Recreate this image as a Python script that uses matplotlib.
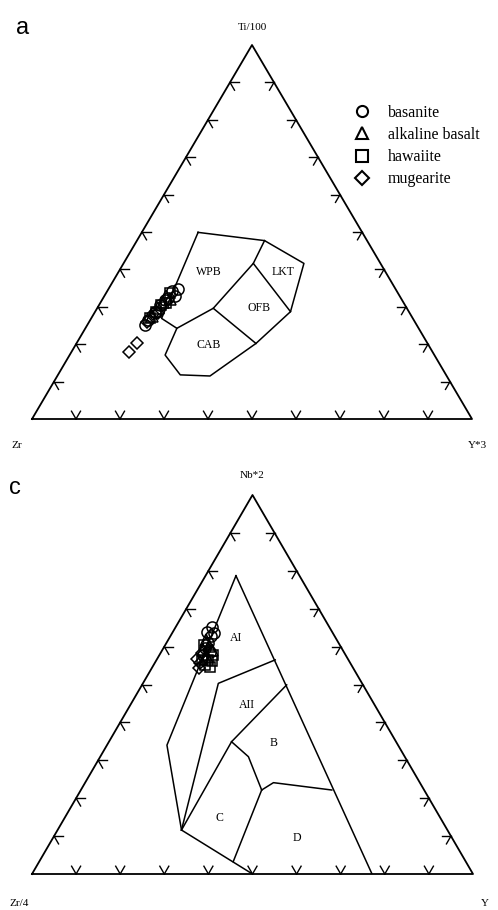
import math
import matplotlib
matplotlib.use("Agg")
import matplotlib.pyplot as plt
from matplotlib.lines import Line2D

plt.rcParams['font.family'] = ['Liberation Serif', 'DejaVu Serif']

# --- data: ternary fractions (top apex, right corner); left corner = remainder ---
# diagram a: Ti/100 - Zr - Y*3
a_bas_ti = [0.251, 0.265, 0.286, 0.305, 0.324, 0.342, 0.329, 0.348, 0.318]
a_bas_y = [0.131, 0.131, 0.137, 0.139, 0.147, 0.147, 0.161, 0.158, 0.143]
a_alk_ti = [0.275, 0.297, 0.313, 0.329, 0.321]
a_alk_y = [0.135, 0.138, 0.141, 0.140, 0.153]
a_haw_ti = [0.270, 0.286, 0.305, 0.337, 0.310]
a_haw_y = [0.133, 0.139, 0.141, 0.145, 0.149]
a_mug_ti = [0.179, 0.203, 0.259, 0.281, 0.283]
a_mug_y = [0.131, 0.137, 0.132, 0.135, 0.144]

# diagram c: Nb*2 - Zr/4 - Y
c_bas_nb = [0.652, 0.628, 0.610, 0.596, 0.586, 0.578, 0.636, 0.6385]
c_bas_y = [0.082, 0.092, 0.094, 0.094, 0.111, 0.099, 0.095, 0.078]
c_alk_nb = [0.617, 0.602, 0.591, 0.573, 0.591]
c_alk_y = [0.086, 0.101, 0.092, 0.111, 0.113]
c_haw_nb = [0.604, 0.565, 0.546, 0.552, 0.562, 0.565, 0.578]
c_haw_y = [0.088, 0.117, 0.131, 0.117, 0.127, 0.103, 0.121]
c_mug_nb = [0.567, 0.557, 0.583, 0.5435]
c_mug_y = [0.091, 0.103, 0.094, 0.107]

# field boundaries, diagram a (Pearce & Cann)
a_outline = [(0.499, 0.128), (0.477, 0.290), (0.416, 0.410), (0.287, 0.444),
             (0.202, 0.408), (0.115, 0.347), (0.118, 0.278), (0.171, 0.217),
             (0.2425, 0.208), (0.269, 0.160), (0.499, 0.128)]
a_lines = [
    [(0.2425, 0.208), (0.296, 0.264), (0.416, 0.295), (0.477, 0.290)],
    [(0.416, 0.295), (0.287, 0.444)],
    [(0.296, 0.264), (0.202, 0.408)],
]
a_fields = ['WPB', 'LKT', 'OFB', 'CAB']
a_field_pos = [(0.394, 0.206), (0.394, 0.373), (0.296, 0.369), (0.198, 0.302)]

# field boundaries, diagram c (Meschede)
c_lines = [
    [(0.787, 0.069), (0.340, 0.136), (0.116, 0.281)],
    [(0.787, 0.069), (0.0, 0.771)],
    [(0.565, 0.269), (0.503, 0.171), (0.116, 0.281)],
    [(0.499, 0.328), (0.349, 0.278), (0.116, 0.281)],
    [(0.349, 0.278), (0.3095, 0.336), (0.2216, 0.410)],
    [(0.2216, 0.410), (0.241, 0.427), (0.2216, 0.569)],
    [(0.2216, 0.410), (0.0325, 0.440)],
    [(0.116, 0.281), (0.0, 0.5)],
]
c_fields = ['AI', 'AII', 'B', 'C', 'D']
c_field_pos = [(0.623, 0.151), (0.446, 0.264), (0.3456, 0.376), (0.148, 0.352), (0.095, 0.553)]

groups = ['basanite', 'alkaline basalt', 'hawaiite', 'mugearite']
markers = ['o', '^', 's', 'D']
msizes = [8, 8, 7, 6]

tick_fracs = [0.1, 0.2, 0.3, 0.4, 0.5, 0.6, 0.7, 0.8, 0.9]

W, H = 498, 910


def xy(top, right):
    return right + top / 2.0, top


def make_tri(rect_px):
    # rect_px = (left, base_y, width, height) in image pixels
    l, base, w, h = rect_px
    ax = fig.add_axes([l / W, 1 - base / H, w / W, h / H])
    ax.set_xlim(0, 1)
    ax.set_ylim(0, 1)
    ax.axis('off')
    ax.plot([0, 1, 0.5, 0], [0, 0, 1, 0], color='black', lw=1.3, clip_on=False)
    arm = 9.0
    for f in tick_fracs:
        for (px, py), angs in [((f, 0.0), (60, 120)),
                               ((0.5 * f, f), (0, -60)),
                               ((1 - 0.5 * f, f), (180, 240))]:
            for ang in angs:
                dx = arm * math.cos(math.radians(ang)) / w
                dy = arm * math.sin(math.radians(ang)) / h
                ax.plot([px, px + dx], [py, py + dy], color='black', lw=1.0,
                        clip_on=False)
    return ax


def draw_points(ax, sets):
    for (tops, rights), g, m, ms in zip(sets, groups, markers, msizes):
        xs, ys = zip(*[xy(t, r) for t, r in zip(tops, rights)])
        ax.plot(xs, ys, linestyle='none', marker=m, ms=ms, mfc='none',
                mec='black', mew=1.1, label=g, clip_on=False)


fig = plt.figure(figsize=(W / 100, H / 100), dpi=100)

# ---- diagram a ----
ax1 = make_tri((32, 419, 440, 374))
ox, oy = zip(*[xy(t, r) for t, r in a_outline])
ax1.plot(ox, oy, color='black', lw=1.1)
for seg in a_lines:
    sx, sy = zip(*[xy(t, r) for t, r in seg])
    ax1.plot(sx, sy, color='black', lw=1.1)
for name, (t, r) in zip(a_fields, a_field_pos):
    x, y = xy(t, r)
    ax1.text(x, y, name, fontsize=8.5, ha='center', va='center')
draw_points(ax1, [(a_bas_ti, a_bas_y), (a_alk_ti, a_alk_y),
                  (a_haw_ti, a_haw_y), (a_mug_ti, a_mug_y)])

leg_handles = [Line2D([], [], linestyle='none', marker=m, ms=ms, mfc='none',
                      mec='black', mew=1.5) for m, ms in zip(markers, [8, 9, 8, 7])]
fig.legend(leg_handles, groups, loc='upper left',
           bbox_to_anchor=(356 / W, 1 - 105 / H), frameon=False,
           fontsize=11.5, handlelength=0.8, handletextpad=1.2,
           labelspacing=0.38, borderpad=0, borderaxespad=0)

# ---- diagram c ----
ax2 = make_tri((32, 874, 441, 379))
for seg in c_lines:
    sx, sy = zip(*[xy(t, r) for t, r in seg])
    ax2.plot(sx, sy, color='black', lw=1.1)
for name, (t, r) in zip(c_fields, c_field_pos):
    x, y = xy(t, r)
    ax2.text(x, y, name, fontsize=8.5, ha='center', va='center')
draw_points(ax2, [(c_bas_nb, c_bas_y), (c_alk_nb, c_alk_y),
                  (c_haw_nb, c_haw_y), (c_mug_nb, c_mug_y)])

# ---- labels ----
def ftext(x, y, s, **kw):
    fig.text(x / W, 1 - y / H, s, ha='center', va='center', **kw)

ftext(23, 28, 'a', fontsize=17, family=['Liberation Sans', 'DejaVu Sans'])
ftext(15, 488, 'c', fontsize=17, family=['Liberation Sans', 'DejaVu Sans'])
ftext(252, 28, 'Ti/100', fontsize=8)
ftext(17, 445, 'Zr', fontsize=8)
ftext(477, 445, 'Y*3', fontsize=8)
ftext(252, 475, 'Nb*2', fontsize=8)
ftext(19, 903, 'Zr/4', fontsize=8)
ftext(485, 903, 'Y', fontsize=8)

fig.savefig('out.png', dpi=100, facecolor='white')
